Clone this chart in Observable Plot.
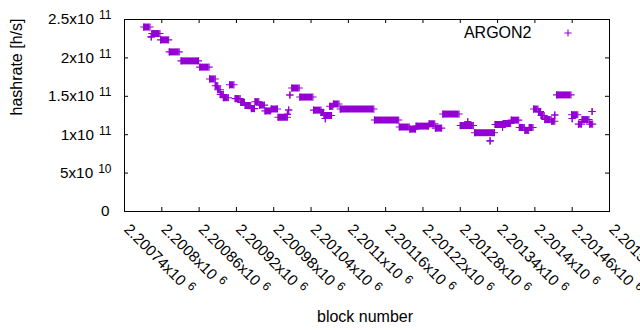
<!DOCTYPE html>
<html><head><meta charset="utf-8">
<script src="https://cdn.jsdelivr.net/npm/d3@7"></script>
<script src="https://cdn.jsdelivr.net/npm/@observablehq/plot@0.6"></script>
<style>html,body{margin:0;padding:0;background:#fff;overflow:hidden}</style>
</head><body><div id="chart"></div>
<script>
// Runs of consecutive blocks sharing the same hashrate estimate
const runStart = [2200771,2200783,2200784,2200798,2200812,2200831,2200861,2200877,2200886,2200890,2200894,2200899,2200909,2200918,2200927,2200934,2200944,2200950,2200957,2200966,2200976,2200987,2201002,2201004,2201006,2201009,2201022,2201044,2201056,2201061,2201063,2201070,2201076,2201087,2201142,2201182,2201199,2201209,2201230,2201240,2201252,2201280,2201292,2201303,2201328,2201336,2201348,2201349,2201362,2201375,2201384,2201391,2201398,2201406,2201410,2201416,2201427,2201432,2201435,2201459,2201460,2201470,2201476,2201488,2201492];
const runEnd   = [2200781,2200783,2200797,2200811,2200828,2200859,2200876,2200886,2200890,2200894,2200899,2200907,2200916,2200926,2200933,2200943,2200949,2200956,2200965,2200975,2200986,2201002,2201002,2201004,2201006,2201021,2201043,2201056,2201060,2201073,2201063,2201075,2201085,2201141,2201181,2201198,2201208,2201229,2201239,2201250,2201278,2201301,2201292,2201335,2201328,2201348,2201348,2201361,2201374,2201383,2201390,2201397,2201405,2201409,2201415,2201426,2201432,2201432,2201458,2201469,2201460,2201475,2201487,2201493,2201492];
const runValue = [240.2e9,227.4e9,231.7e9,223.5e9,207.8e9,196.1e9,188.0e9,172.6e9,163.8e9,158.6e9,152.4e9,148.2e9,165.0e9,147.0e9,142.0e9,138.0e9,134.0e9,143.0e9,138.5e9,131.0e9,133.5e9,122.7e9,126.4e9,132.1e9,151.7e9,160.8e9,149.0e9,132.0e9,129.0e9,125.0e9,121.0e9,137.0e9,140.0e9,133.4e9,119.1e9,110.0e9,107.3e9,111.2e9,114.2e9,108.6e9,126.9e9,111.9e9,116.8e9,102.6e9,92.0e9,113.3e9,109.7e9,114.6e9,119.0e9,109.4e9,105.7e9,109.4e9,133.4e9,130.0e9,125.0e9,119.7e9,117.5e9,125.6e9,151.8e9,126.0e9,121.0e9,113.8e9,119.7e9,113.8e9,130.2e9];

const xTicks = [2200740,2200800,2200860,2200920,2200980,2201040,2201100,2201160,2201220,2201280,2201340,2201400,2201460,2201520];
const xTickLabels = ["2.20074x10^6","2.2008x10^6","2.20086x10^6","2.20092x10^6","2.20098x10^6","2.20104x10^6","2.2011x10^6","2.20116x10^6","2.20122x10^6","2.20128x10^6","2.20134x10^6","2.2014x10^6","2.20146x10^6","2.20152x10^6"];
const yTicks = [0, 5e10, 1e11, 1.5e11, 2e11, 2.5e11];
const yTickLabels = ["0","5x10^10","1x10^11","1.5x10^11","2x10^11","2.5x10^11"];
const seriesName = "ARGON2";
const xLabel = "block number";
const yLabel = "hashrate [h/s]";

const runs = runStart.map((s, i) => ({start: s, end: runEnd[i], value: runValue[i]}));
const color = "#9400d3";
const font = "'Liberation Sans', Arial, sans-serif";
const plusSymbol = {draw(ctx) { const r = 3.6; ctx.moveTo(-r, 0); ctx.lineTo(r, 0); ctx.moveTo(0, -r); ctx.lineTo(0, r); }};
const W = 640, H = 330, mL = 124, mR = 31, mT = 19, mB = 119;
const fw = W - mL - mR, fh = H - mT - mB;

const yIdx = yTicks.map((d, i) => i);
const plot = Plot.plot({
  width: W, height: H,
  marginLeft: mL, marginRight: mR, marginTop: mT, marginBottom: mB,
  style: {fontFamily: font, background: "#fff", color: "#000"},
  x: {domain: [xTicks[0], xTicks[xTicks.length - 1]], axis: null},
  y: {domain: [yTicks[0], yTicks[yTicks.length - 1]], axis: null},
  marks: [
    // data
    Plot.ruleY(runs.filter(d => d.end > d.start), {y: "value", x1: "start", x2: "end", stroke: color, strokeWidth: 7}),
    Plot.dot(runs, {x: "start", y: "value", symbol: plusSymbol, stroke: color, fill: "none", strokeWidth: 1.1}),
    Plot.dot(runs, {x: "end", y: "value", symbol: plusSymbol, stroke: color, fill: "none", strokeWidth: 1.1}),
    // frame and inward ticks
    Plot.frame({stroke: "#000", strokeWidth: 1}),
    Plot.tickX(xTicks, {x: d => d, insetTop: fh - 4, stroke: "#000"}),
    Plot.tickX(xTicks, {x: d => d, insetBottom: fh - 4, stroke: "#000"}),
    Plot.tickY(yTicks, {y: d => d, insetRight: fw - 4, stroke: "#000"}),
    Plot.tickY(yTicks, {y: d => d, insetLeft: fw - 4, stroke: "#000"}),
    // y tick labels
    Plot.text(yIdx.filter(i => yTicks[i] !== 0), {y: i => yTicks[i], text: i => yTickLabels[i], frameAnchor: "left", dx: -13, textAnchor: "end", fontSize: 15.3, fill: "#000"}),
    Plot.text(yIdx.filter(i => yTicks[i] === 0), {y: i => yTicks[i], text: i => yTickLabels[i], frameAnchor: "left", dx: -15, textAnchor: "end", fontSize: 15.3, fill: "#000"}),
    // x tick labels
    Plot.text(xTicks.map((d, i) => i), {x: i => xTicks[i], text: i => xTickLabels[i], frameAnchor: "bottom", rotate: 45, textAnchor: "start", lineAnchor: "bottom", dx: -1.3, dy: 18.8, fontSize: 15.3, fill: "#000"}),
    // axis titles
    Plot.text([yLabel], {text: d => d, frameAnchor: "left", rotate: -90, lineAnchor: "bottom", dx: 21 - mL, fontSize: 16, fill: "#000"}),
    Plot.text([xLabel], {text: d => d, frameAnchor: "bottom", lineAnchor: "bottom", dx: -2, dy: 110, fontSize: 16, fill: "#000"}),
    // legend
    Plot.text([seriesName], {text: d => d, frameAnchor: "top-right", textAnchor: "end", lineAnchor: "bottom", dx: 531 - (W - mR), dy: 37 - mT, fontSize: 16, fill: "#000"}),
    Plot.dot([seriesName], {frameAnchor: "top-right", dx: 567.5 - (W - mR), dy: 32.5 - mT, symbol: plusSymbol, stroke: color, fill: "none", strokeWidth: 1.1})
  ]
});

// gnuplot-style superscripts: "a^b" -> a + raised b
plot.querySelectorAll("text").forEach(el => {
  const t = el.textContent;
  const k = t.indexOf("^");
  if (k < 0) return;
  el.textContent = t.slice(0, k);
  const ts = document.createElementNS("http://www.w3.org/2000/svg", "tspan");
  ts.setAttribute("dx", "5");
  ts.setAttribute("dy", "-5");
  ts.setAttribute("font-size", "12");
  ts.textContent = t.slice(k + 1);
  el.appendChild(ts);
});
document.getElementById("chart").appendChild(plot);
</script>
</body></html>
